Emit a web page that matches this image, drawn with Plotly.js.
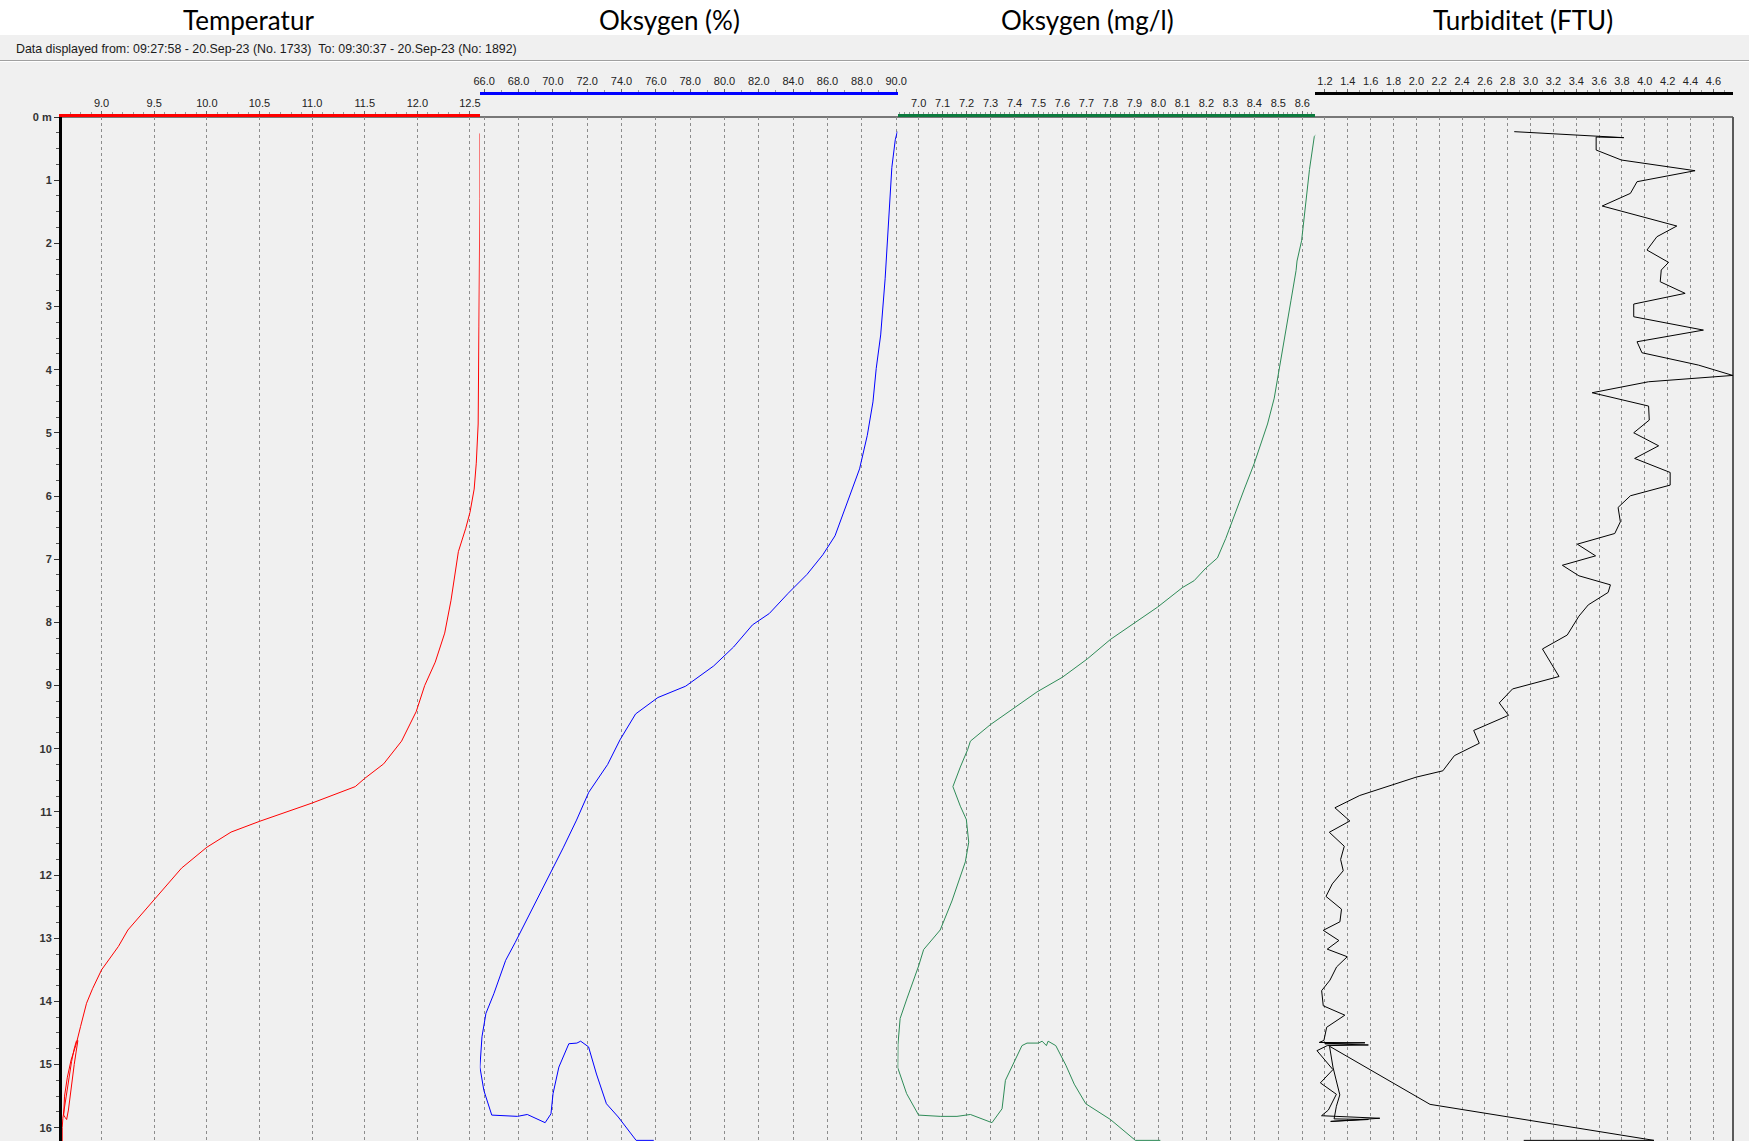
<!DOCTYPE html>
<html>
<head>
<meta charset="utf-8">
<script src="https://cdn.plot.ly/plotly-3.0.1.min.js"></script>
<style>
html,body{margin:0;padding:0;background:#f0f0f0;overflow:hidden;}
#chart{width:1749px;height:1141px;}
</style>
</head>
<body>
<div id="chart"></div>
<script>
// ---------------- DATA ----------------
const panelTitles = ["Temperatur", "Oksygen (%)", "Oksygen (mg/l)", "Turbiditet (FTU)"];
const headerText = "Data displayed from: 09:27:58 - 20.Sep-23 (No. 1733)\u00a0\u00a0To: 09:30:37 - 20.Sep-23 (No: 1892)";

const depthTickValues = [0,1,2,3,4,5,6,7,8,9,10,11,12,13,14,15,16];
const depthTickLabels = ["0 m","1","2","3","4","5","6","7","8","9","10","11","12","13","14","15","16"];

// Temperature (°C) vs depth (m)
const tempDepth = [0.26,1.29,3.31,4.86,5.48,5.89,6.26,6.51,6.88,7.24,7.65,8.17,8.63,9.0,9.41,9.88,10.24,10.47,10.6,10.86,11.15,11.32,11.56,11.89,12.39,12.87,13.13,13.5,13.8,14.03,14.4,14.67,14.93,15.2,15.5,15.8,15.84,15.87,15.72,15.5,15.25,15.0,14.8,14.64,14.62,14.63,14.75,14.95,15.2,15.45,15.7,15.85,16.0,16.25];
const tempValue = [12.594,12.594,12.585,12.578,12.56,12.54,12.50,12.46,12.39,12.36,12.32,12.26,12.17,12.07,11.99,11.85,11.68,11.50,11.41,11.0,10.50,10.23,10.0,9.76,9.50,9.25,9.16,9.0,8.914,8.857,8.80,8.76,8.71,8.675,8.648,8.64,8.655,8.668,8.685,8.70,8.72,8.74,8.758,8.77,8.775,8.76,8.74,8.715,8.69,8.665,8.645,8.632,8.626,8.626];

// Oxygen saturation (%) vs depth (m)
const oxyPctDepth = [0.23,0.36,0.80,1.68,2.56,3.45,3.98,4.51,5.04,5.57,5.92,6.27,6.63,6.93,7.24,7.54,7.86,8.04,8.39,8.69,9.01,9.19,9.45,9.86,10.25,10.69,11.13,11.57,12.10,12.63,13.07,13.35,13.88,14.19,14.56,15.04,15.41,15.80,15.82,15.79,15.92,15.78,15.46,15.04,14.67,14.66,14.63,14.72,15.15,15.62,15.83,16.20,16.20];
const oxyPctValue = [90.07,89.95,89.75,89.56,89.36,89.10,88.84,88.65,88.32,87.87,87.41,86.96,86.44,85.73,84.81,83.71,82.61,81.63,80.53,79.37,77.74,76.12,74.82,73.91,73.19,72.09,71.38,70.60,69.62,68.65,67.80,67.25,66.56,66.10,65.87,65.75,65.98,66.44,67.94,68.51,69.55,69.89,70.01,70.35,70.93,71.40,71.62,72.08,72.54,73.12,73.81,74.85,75.88];

// Oxygen (mg/l) vs depth (m)
const oxyMgDepth = [0.26,0.31,0.83,1.55,1.96,2.28,2.43,2.9,3.52,4.03,4.45,4.86,5.48,5.89,6.31,6.67,6.98,7.14,7.34,7.45,7.76,8.01,8.27,8.58,8.87,9.1,9.36,9.62,9.88,10.01,10.29,10.6,10.91,11.12,11.48,11.79,12.41,12.87,13.18,13.44,13.96,14.27,14.68,15.05,15.46,15.8,15.82,15.82,15.79,15.92,15.7,15.25,14.7,14.66,14.66,14.63,14.7,14.63,14.7,15.01,15.31,15.62,15.87,16.2,16.2];
const oxyMgValue = [8.662,8.65,8.63,8.609,8.597,8.578,8.574,8.553,8.525,8.504,8.483,8.455,8.40,8.358,8.316,8.281,8.246,8.198,8.149,8.10,7.996,7.898,7.80,7.703,7.599,7.494,7.397,7.299,7.216,7.205,7.174,7.143,7.174,7.199,7.209,7.195,7.139,7.09,7.021,7.0,6.951,6.923,6.914,6.913,6.95,7.0,7.09,7.16,7.216,7.306,7.348,7.362,7.431,7.452,7.5,7.515,7.533,7.54,7.572,7.614,7.649,7.697,7.8,7.904,8.008];

// Turbidity (FTU) vs depth (m)
const turbDepth = [0.232,0.296,0.327,0.317,0.523,0.681,0.850,1.024,1.209,1.409,1.726,1.895,2.106,2.301,2.423,2.608,2.792,2.961,3.162,3.373,3.558,3.732,3.927,4.091,4.191,4.365,4.576,4.798,4.999,5.205,5.405,5.627,5.827,5.996,6.181,6.408,6.593,6.762,6.947,7.096,7.263,7.406,7.526,7.723,7.902,8.2,8.421,8.857,9.054,9.275,9.472,9.711,9.914,10.11,10.35,10.45,10.74,10.935,11.144,11.323,11.544,11.753,11.932,12.14,12.338,12.54,12.74,12.875,13.036,13.173,13.293,13.454,13.663,13.83,14.07,14.218,14.41,14.618,14.65,14.655,14.67,14.69,14.70,14.78,15.08,15.29,15.47,15.72,15.81,15.85,15.90,15.87,15.86,15.66,15.48,15.25,15.04,14.71,15.63,16.20,16.20];
const turbValue = [2.857,3.574,3.816,3.574,3.574,3.795,4.44,3.932,3.874,3.627,4.28,4.106,4.019,4.208,4.144,4.135,4.353,3.903,3.903,4.513,3.932,3.975,4.469,4.77,4.033,3.539,4.033,4.039,3.903,4.121,3.911,4.222,4.222,3.874,3.766,3.786,3.737,3.409,3.569,3.278,3.423,3.699,3.679,3.505,3.423,3.321,3.104,3.249,2.842,2.726,2.807,2.502,2.551,2.333,2.232,1.999,1.505,1.287,1.418,1.238,1.369,1.337,1.36,1.264,1.209,1.345,1.331,1.185,1.322,1.22,1.395,1.302,1.244,1.171,1.185,1.374,1.215,1.191,1.15,1.55,1.20,1.58,1.22,1.13,1.27,1.16,1.30,1.23,1.17,1.68,1.25,1.58,1.28,1.30,1.33,1.30,1.27,1.24,2.12,4.08,2.94];

// ---------------- LAYOUT HELPERS ----------------
const W = 1749, H = 1141, ML = 62, MR = 16;
const PW = W - ML - MR;
const px = x => (x - ML) / PW;        // pixel x -> paper x
const py = y => (H - y) / H;          // pixel y -> paper y (t=0,b=0)

const plotTop = 117, raisedAxis = 93.3;
const titleFont = {family: "Lato, 'Open Sans', sans-serif", size: 26, color: "#000"};
const tickFont = {family: "'Liberation Sans', Arial, sans-serif", size: 11, color: "#222"};

function xAxis(domain, range, dtick, tick0, minorDtick, color, raised) {
  const ax = {
    domain: domain, range: range, side: "top",
    tickmode: "linear", tick0: tick0, dtick: dtick, tickformat: ".1f",
    ticks: "outside", ticklen: 3, tickwidth: 1, tickcolor: "#666",
    ticklabelstandoff: 0,
    tickfont: tickFont,
    showgrid: true, gridcolor: "#8c8c8c", griddash: "3px,3px", gridwidth: 1,
    zeroline: false, showline: true, linewidth: 3, linecolor: color,
    minor: {tickmode: "linear", tick0: tick0, dtick: minorDtick, ticks: "outside", ticklen: 2, tickcolor: "#999", showgrid: false},
    fixedrange: true
  };
  if (raised) { ax.anchor = "free"; ax.position = py(raisedAxis); }
  else { ax.anchor = "y"; }
  return ax;
}

const lineBase = {mode: "lines", hoverinfo: "skip", showlegend: false, yaxis: "y"};
const traces = [
  Object.assign({}, lineBase, {x: tempValue, y: tempDepth, xaxis: "x", line: {color: "#ff0000", width: 1}}),
  Object.assign({}, lineBase, {x: oxyPctValue, y: oxyPctDepth, xaxis: "x2", line: {color: "#0000ff", width: 1}}),
  Object.assign({}, lineBase, {x: oxyMgValue, y: oxyMgDepth, xaxis: "x3", line: {color: "#2e8b57", width: 1}}),
  Object.assign({}, lineBase, {x: turbValue, y: turbDepth, xaxis: "x4", line: {color: "#000000", width: 1}})
];

const titleCenters = [248, 669, 1087.7, 1523.3];
const annotations = panelTitles.map((t, i) => ({
  text: t, xref: "paper", yref: "paper", x: px(titleCenters[i]), y: py(20),
  xanchor: "center", yanchor: "middle", showarrow: false, font: titleFont
}));
annotations.push({
  text: headerText, xref: "paper", yref: "paper", x: px(14), y: py(49),
  xanchor: "left", yanchor: "middle", showarrow: false,
  font: {family: "'Liberation Sans', Arial, sans-serif", size: 12.4, color: "#1a1a1a"}
});

const shapes = [
  {type: "rect", xref: "paper", yref: "paper", x0: px(0), x1: px(W), y0: py(35), y1: py(0), fillcolor: "#ffffff", line: {width: 0}, layer: "below"},
  {type: "line", xref: "paper", yref: "paper", x0: px(0), x1: px(W), y0: py(60.5), y1: py(60.5), line: {color: "#a0a0a0", width: 1}, layer: "below"},
  {type: "line", xref: "paper", yref: "paper", x0: px(0), x1: px(W), y0: py(61.5), y1: py(61.5), line: {color: "#ffffff", width: 1}, layer: "below"},
  {type: "line", xref: "paper", yref: "paper", x0: px(62), x1: px(1733), y0: py(plotTop), y1: py(plotTop), line: {color: "#000000", width: 1}, layer: "below"},
  {type: "line", xref: "paper", yref: "paper", x0: px(1733), x1: px(1733), y0: py(plotTop), y1: py(H), line: {color: "#5a5a5a", width: 2}, layer: "below"}
];

const layout = {
  width: W, height: H,
  margin: {l: ML, r: MR, t: 0, b: 0, pad: 0},
  paper_bgcolor: "#f0f0f0", plot_bgcolor: "rgba(0,0,0,0)",
  showlegend: false,
  xaxis:  xAxis([0, 0.25],   [8.624, 12.593], 0.5, 9.0, 0.1,  "#ff0000", false),
  xaxis2: xAxis([0.25, 0.5], [65.74, 90.08],  2.0, 66.0, 1.0, "#0000ff", true),
  xaxis3: xAxis([0.5, 0.75], [6.912, 8.654],  0.1, 7.0, 0.02, "#0b7a3e", false),
  xaxis4: xAxis([0.75, 1],   [1.115, 4.772],  0.2, 1.2, 0.1,  "#000000", true),
  yaxis: {
    domain: [0, py(plotTop)], range: [16.21, 0], anchor: "x",
    tickmode: "array", tickvals: depthTickValues, ticktext: depthTickLabels,
    ticks: "outside", ticklen: 5, tickwidth: 1, tickcolor: "#333",
    tickfont: {family: "'Liberation Sans', Arial, sans-serif", size: 11, color: "#333", weight: "bold"},
    showgrid: false, zeroline: false, showline: true, linewidth: 3, linecolor: "#000",
    minor: {tickmode: "linear", tick0: 0, dtick: 0.25, ticks: "outside", ticklen: 3, tickcolor: "#555", showgrid: false},
    fixedrange: true
  },
  annotations: annotations,
  shapes: shapes
};

Plotly.newPlot("chart", traces, layout, {displayModeBar: false, staticPlot: true});
</script>
</body>
</html>
